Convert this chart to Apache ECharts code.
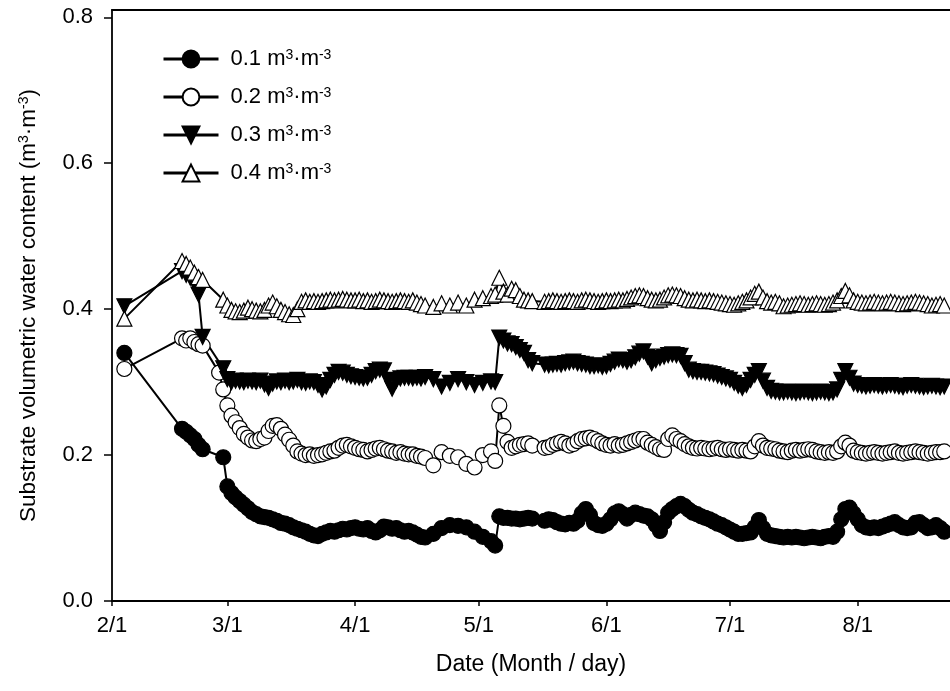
<!DOCTYPE html>
<html>
<head>
<meta charset="utf-8">
<title>Substrate volumetric water content</title>
<script src="https://cdn.jsdelivr.net/npm/echarts@6/dist/echarts.min.js"></script>
<style>
  html, body { margin: 0; padding: 0; background: #fff; }
  #chart { width: 950px; height: 691px; }
</style>
</head>
<body>
<div id="chart"></div>
<script>
// measurement dates (month/day)
const dates = [
  '2/4',
  '2/18', '2/19', '2/20', '2/21', '2/22', '2/23',
  '2/27', '2/28',
  '3/1', '3/2', '3/3', '3/4', '3/5', '3/6', '3/7', '3/8', '3/9', '3/10',
  '3/11', '3/12', '3/13', '3/14', '3/15', '3/16', '3/17', '3/18', '3/19', '3/20',
  '3/21', '3/22', '3/23', '3/24', '3/25', '3/26', '3/27', '3/28', '3/29', '3/30', '3/31',
  '4/1', '4/2', '4/3', '4/4', '4/5', '4/6', '4/7', '4/8', '4/9', '4/10',
  '4/11', '4/12', '4/13', '4/14', '4/15', '4/16', '4/17', '4/18',
  '4/20', '4/22', '4/24', '4/26', '4/28', '4/30',
  '5/2', '5/4', '5/5', '5/6', '5/7', '5/8', '5/9', '5/10', '5/11', '5/12', '5/13', '5/14',
  '5/17', '5/18', '5/19', '5/20', '5/21', '5/22', '5/23', '5/24', '5/25', '5/26',
  '5/27', '5/28', '5/29', '5/30', '5/31',
  '6/1', '6/2', '6/3', '6/4', '6/5', '6/6', '6/7', '6/8', '6/9', '6/10',
  '6/11', '6/12', '6/13', '6/14', '6/15', '6/16', '6/17', '6/18', '6/19', '6/20',
  '6/21', '6/22', '6/23', '6/24', '6/25', '6/26', '6/27', '6/28', '6/29', '6/30',
  '7/1', '7/2', '7/3', '7/4', '7/5', '7/6', '7/7', '7/8', '7/9', '7/10',
  '7/11', '7/12', '7/13', '7/14', '7/15', '7/16', '7/17', '7/18', '7/19', '7/20',
  '7/21', '7/22', '7/23', '7/24', '7/25', '7/26', '7/27', '7/28', '7/29', '7/30', '7/31',
  '8/1', '8/2', '8/3', '8/4', '8/5', '8/6', '8/7', '8/8', '8/9', '8/10',
  '8/11', '8/12', '8/13', '8/14', '8/15', '8/16', '8/17', '8/18', '8/19', '8/20',
  '8/21', '8/22'
];

// 0.1 m3/m3 treatment
const s01 = [
  0.340,
  0.236, 0.232, 0.227, 0.222, 0.214, 0.208,
  null, 0.197,
  0.157, 0.148, 0.142, 0.137, 0.132, 0.127, 0.122, 0.119, 0.116, 0.115,
  0.114, 0.112, 0.110, 0.107, 0.106, 0.104, 0.101, 0.099, 0.097, 0.095,
  0.092, 0.090, 0.089, 0.092, 0.094, 0.096, 0.095, 0.097, 0.099, 0.098, 0.100,
  0.101, 0.099, 0.098, 0.100, 0.096, 0.094, 0.097, 0.102, 0.101, 0.099,
  0.100, 0.097, 0.095, 0.096, 0.094, 0.091, 0.088, 0.087,
  0.092, 0.100, 0.104, 0.103, 0.101, 0.095,
  0.088, 0.082, 0.076, 0.116, 0.114, 0.114, 0.113, 0.113, 0.112, 0.113, 0.114, 0.113,
  0.110, 0.112, 0.111, 0.108, 0.106, 0.105, 0.107, 0.106, 0.110, 0.120,
  0.126, 0.118, 0.107, 0.104, 0.103,
  0.106, 0.112, 0.120, 0.123, 0.119, 0.113, 0.118, 0.121, 0.119, 0.117,
  0.116, 0.112, 0.104, 0.096, 0.108, 0.121, 0.126, 0.130, 0.133, 0.130,
  0.125, 0.121, 0.119, 0.116, 0.114, 0.112, 0.109, 0.106, 0.104, 0.101,
  0.098, 0.095, 0.092, 0.092, 0.093, 0.094, 0.101, 0.111, 0.100, 0.092,
  0.090, 0.089, 0.088, 0.087, 0.088, 0.087, 0.088, 0.087, 0.086, 0.087,
  0.088, 0.087, 0.086, 0.088, 0.089, 0.088, 0.095, 0.112, 0.126, 0.128, 0.120,
  0.112, 0.104, 0.101, 0.100, 0.101, 0.100, 0.102, 0.104, 0.106, 0.108,
  0.104, 0.101, 0.100, 0.101, 0.107, 0.108, 0.104, 0.100, 0.101, 0.104,
  0.100, 0.095
];

// 0.2 m3/m3 treatment
const s02 = [
  0.318,
  0.360, 0.357, 0.360, 0.355, 0.352, 0.350,
  0.313, 0.290,
  0.268, 0.254, 0.245, 0.237, 0.229, 0.224, 0.220, 0.219, 0.222, 0.224,
  0.233, 0.240, 0.241, 0.236, 0.228, 0.221, 0.213, 0.205, 0.202, 0.200,
  0.201, 0.199, 0.200, 0.201, 0.203, 0.205, 0.206, 0.210, 0.213, 0.214, 0.212,
  0.210, 0.208, 0.207, 0.205, 0.207, 0.209, 0.210, 0.208, 0.206, 0.205,
  0.203, 0.204, 0.202, 0.201, 0.201, 0.199, 0.198, 0.196,
  0.186, 0.204, 0.199, 0.197, 0.188, 0.183,
  0.200, 0.205, 0.192, 0.268, 0.240, 0.218, 0.210, 0.212, 0.214, 0.215, 0.216, 0.213,
  0.210, 0.211, 0.214, 0.216, 0.218, 0.216, 0.213, 0.215, 0.219, 0.222,
  0.223, 0.224, 0.222, 0.219, 0.216,
  0.214, 0.213, 0.215, 0.213, 0.214, 0.216, 0.218, 0.220, 0.222, 0.222,
  0.217, 0.214, 0.211, 0.208, 0.207, 0.222, 0.227, 0.222, 0.219, 0.215,
  0.212, 0.210, 0.209, 0.210, 0.209, 0.208, 0.209, 0.210, 0.208, 0.207,
  0.208, 0.207, 0.206, 0.207, 0.206, 0.205, 0.212, 0.219, 0.213, 0.210,
  0.209, 0.208, 0.206, 0.205, 0.204, 0.206, 0.207, 0.206, 0.207, 0.208,
  0.207, 0.205, 0.204, 0.203, 0.204, 0.203, 0.205, 0.212, 0.217, 0.213, 0.206,
  0.204, 0.203, 0.202, 0.203, 0.204, 0.203, 0.202, 0.203, 0.204, 0.205,
  0.203, 0.202, 0.203, 0.204, 0.205, 0.204, 0.203, 0.202, 0.203, 0.204,
  0.204, 0.205
];

// 0.3 m3/m3 treatment
const s03 = [
  0.404,
  0.452, 0.447, 0.443, 0.436, 0.420, 0.362,
  null, 0.319,
  0.304, 0.300, 0.302, 0.301, 0.300, 0.302, 0.301, 0.300, 0.302, 0.297,
  0.292, 0.298, 0.301, 0.300, 0.302, 0.300, 0.301, 0.303, 0.300, 0.299,
  0.301, 0.300, 0.296, 0.290, 0.294, 0.303, 0.310, 0.314, 0.313, 0.310, 0.308,
  0.307, 0.306, 0.305, 0.306, 0.310, 0.315, 0.317, 0.316, 0.303, 0.291,
  0.302, 0.305, 0.306, 0.306, 0.305, 0.306, 0.305, 0.307,
  0.304, 0.294, 0.299, 0.304, 0.300, 0.296,
  0.299, 0.301, 0.300, 0.361, 0.357, 0.353, 0.352, 0.348, 0.344, 0.340, 0.330, 0.326,
  0.324, 0.323, 0.324, 0.325, 0.324, 0.326, 0.327, 0.328, 0.326, 0.325,
  0.324, 0.322, 0.322, 0.323, 0.321,
  0.322, 0.325, 0.328, 0.331, 0.330, 0.328, 0.330, 0.334, 0.339, 0.342,
  0.335, 0.326, 0.330, 0.333, 0.335, 0.337, 0.338, 0.337, 0.336, 0.326,
  0.317, 0.315, 0.314, 0.314, 0.313, 0.312, 0.311, 0.309, 0.307, 0.305,
  0.303, 0.299, 0.295, 0.292, 0.296, 0.303, 0.310, 0.315, 0.302, 0.292,
  0.288, 0.287, 0.286, 0.286, 0.287, 0.286, 0.285, 0.286, 0.287, 0.286,
  0.285, 0.286, 0.287, 0.286, 0.285, 0.286, 0.290, 0.303, 0.315, 0.306, 0.298,
  0.296, 0.295, 0.294, 0.295, 0.296, 0.295, 0.294, 0.295, 0.296, 0.295,
  0.294, 0.293, 0.295, 0.296, 0.295, 0.294, 0.293, 0.294, 0.295, 0.294,
  0.293, 0.294
];

// 0.4 m3/m3 treatment
const s04 = [
  0.387,
  0.466, 0.462, 0.457, 0.450, 0.444, 0.440,
  null, 0.413,
  0.405, 0.399, 0.397, 0.396, 0.398, 0.402, 0.400, 0.398, 0.397, 0.399,
  0.405, 0.409, 0.404, 0.399, 0.396, 0.393, 0.392, 0.400, 0.410, 0.412,
  0.410, 0.411, 0.410, 0.411, 0.412, 0.413, 0.412, 0.413, 0.414, 0.413, 0.412,
  0.412, 0.413, 0.411, 0.412, 0.410, 0.411, 0.413, 0.412, 0.411, 0.410,
  0.411, 0.412, 0.411, 0.410, 0.412, 0.409, 0.407, 0.405,
  0.403, 0.408, 0.405, 0.409, 0.405, 0.413,
  0.415, 0.418, 0.420, 0.443, 0.424, 0.420, 0.428, 0.426, 0.418, 0.413, 0.412, 0.411,
  0.410, 0.411, 0.412, 0.411, 0.410, 0.411, 0.412, 0.411, 0.410, 0.412,
  0.413, 0.412, 0.411, 0.410, 0.411,
  0.412, 0.411, 0.412, 0.413, 0.412, 0.414, 0.416, 0.418, 0.419, 0.418,
  0.415, 0.413, 0.412, 0.413, 0.416, 0.419, 0.420, 0.419, 0.418, 0.415,
  0.413, 0.412, 0.413, 0.412, 0.411, 0.412, 0.411, 0.410, 0.409, 0.408,
  0.407, 0.406, 0.408, 0.410, 0.412, 0.416, 0.421, 0.424, 0.416, 0.411,
  0.409, 0.410, 0.408, 0.404, 0.405, 0.406, 0.407, 0.408, 0.407, 0.406,
  0.407, 0.408, 0.407, 0.406, 0.407, 0.409, 0.412, 0.418, 0.425, 0.419, 0.412,
  0.410, 0.409, 0.408, 0.409, 0.410, 0.409, 0.408, 0.409, 0.410, 0.409,
  0.408, 0.407, 0.408, 0.409, 0.410, 0.409, 0.408, 0.407, 0.405, 0.406,
  0.407, 0.405
];

const seriesNames = ['0.1', '0.2', '0.3', '0.4'];
const tickLabels = ['2/1', '3/1', '4/1', '5/1', '6/1', '7/1', '8/1'];
const yTicks = [0, 0.2, 0.4, 0.6, 0.8];

// days since 2/1 (non-leap year)
function dayIndex(md) {
  const [m, d] = md.split('/').map(Number);
  return (Date.UTC(2019, m - 1, d) - Date.UTC(2019, 1, 1)) / 86400000;
}

const tickDays = tickLabels.map(dayIndex);
const labelByDay = {};
tickLabels.forEach((t, i) => { labelByDay[tickDays[i]] = t; });

const xMax = 203.4; // plot is cut off just after 8/22

const toPairs = vals => dates.map((d, i) => [dayIndex(d), vals[i]]);

const black = '#000';
const font = 'Liberation Sans, Arial, sans-serif';
const supRich = {
  sup: { fontSize: 14, fontFamily: font, color: black, verticalAlign: 'top' },
  base: { fontSize: 22.5, fontFamily: font, color: black }
};
const legendRich = {
  sup: { fontSize: 14, fontFamily: font, color: black, verticalAlign: 'top' }
};

const chart = echarts.init(document.getElementById('chart'));

const baseSeries = (name, vals, symbol, fill, rotate) => ({
  name: name,
  type: 'line',
  data: toPairs(vals),
  connectNulls: true,
  symbol: symbol,
  symbolSize: 15,
  symbolRotate: rotate || 0,
  itemStyle: { color: fill, borderColor: black, borderWidth: 1.2 },
  lineStyle: { color: black, width: 2 },
  emphasis: { disabled: true }
});

const option = {
  animation: false,
  textStyle: { fontFamily: font },
  grid: { left: 112, right: 0, top: 10, bottom: 90 },
  legend: {
    orient: 'vertical',
    left: 157,
    top: 43,
    itemWidth: 55,
    itemHeight: 21,
    itemGap: 16,
    lineStyle: { width: 3 },
    textStyle: { fontSize: 22, color: black, fontFamily: font, padding: [0, 0, 0, 7], rich: legendRich },
    formatter: name => `${name} m{sup|3}·m{sup|-3}`,
    data: seriesNames
  },
  xAxis: [{
    type: 'value',
    position: 'bottom',
    min: 0,
    max: xMax,
    axisLine: { show: true, onZero: false, lineStyle: { color: black, width: 1.8 } },
    axisTick: { show: true, length: 5, customValues: tickDays, lineStyle: { color: black, width: 1.5 } },
    axisLabel: {
      customValues: tickDays,
      formatter: v => labelByDay[v] || '',
      margin: 14,
      fontSize: 22,
      color: black,
      fontFamily: font
    },
    splitLine: { show: false },
    name: 'Date (Month / day)',
    nameLocation: 'middle',
    nameGap: 52,
    nameTextStyle: { fontSize: 23, color: black, fontFamily: font }
  }, {
    type: 'value',
    position: 'top',
    min: 0,
    max: xMax,
    axisLine: { show: true, onZero: false, lineStyle: { color: black, width: 1.8 } },
    axisTick: { show: false },
    axisLabel: { show: false },
    splitLine: { show: false }
  }],
  yAxis: {
    type: 'value',
    min: 0,
    max: 0.81,
    interval: 0.2,
    axisLine: { show: true, onZero: false, lineStyle: { color: black, width: 1.8 } },
    axisTick: { show: true, length: 8, customValues: yTicks, lineStyle: { color: black, width: 1.5 } },
    axisLabel: {
      customValues: yTicks,
      formatter: v => v.toFixed(1),
      margin: 19,
      fontSize: 22,
      color: black,
      fontFamily: font
    },
    splitLine: { show: false },
    name: '{base|Substrate volumetric water content (m}{sup|3}{base|·m}{sup|-3}{base|)}',
    nameLocation: 'middle',
    nameGap: 72,
    nameTextStyle: { fontSize: 22.5, color: black, fontFamily: font, rich: supRich }
  },
  series: [
    baseSeries(seriesNames[0], s01, 'circle', black),
    baseSeries(seriesNames[1], s02, 'circle', '#fff'),
    baseSeries(seriesNames[2], s03, 'triangle', black, 180),
    baseSeries(seriesNames[3], s04, 'triangle', '#fff')
  ]
};

chart.setOption(option);
</script>
</body>
</html>
